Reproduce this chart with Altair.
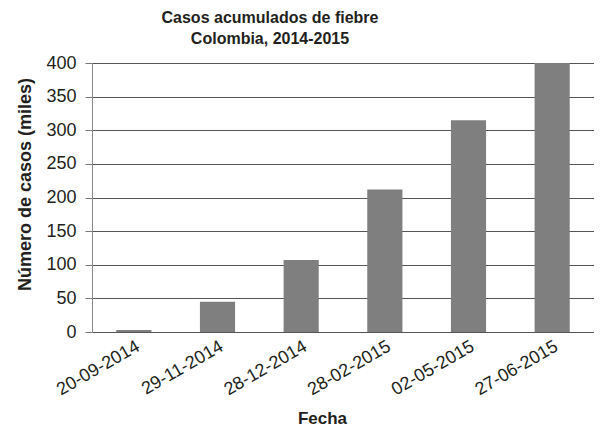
import altair as alt
import pandas as pd

fechas = ["20-09-2014", "29-11-2014", "28-12-2014", "28-02-2015", "02-05-2015", "27-06-2015"]
casos = [3, 45, 107, 212, 315, 400]

df = pd.DataFrame({"Fecha": fechas, "Casos": casos})

FONT = "Liberation Sans"
TXT = "#231f20"

chart = alt.Chart(df).mark_bar(color="#7f7f80").encode(
    x=alt.X(
        "Fecha:N",
        sort=None,
        scale=alt.Scale(paddingInner=0.58, paddingOuter=0.29),
        axis=alt.Axis(
            title="Fecha",
            labelAngle=-30,
            labelAlign="right",
            labelBaseline="top",
            labelPadding=5,
            labelFontSize=18,
            labelColor=TXT,
            labelFont=FONT,
            ticks=False,
            domain=False,
            grid=False,
            titleFont=FONT,
            titleFontSize=17,
            titleFontWeight="bold",
            titleColor=TXT,
            titleX=230,
            titleY=91,
            titleBaseline="alphabetic",
        ),
    ),
    y=alt.Y(
        "Casos:Q",
        scale=alt.Scale(domain=[0, 400], nice=False),
        axis=alt.Axis(
            title="Número de casos (miles)",
            values=[0, 50, 100, 150, 200, 250, 300, 350, 400],
            labelFontSize=18,
            labelColor=TXT,
            labelFont=FONT,
            labelPadding=9,
            tickSize=7,
            tickColor="#777777",
            domainColor="#888888",
            gridColor="#555555",
            gridWidth=1,
            gridOpacity=1,
            titleFont=FONT,
            titleFontSize=18,
            titleFontWeight="bold",
            titleColor=TXT,
            titleAngle=-90,
            titleX=-62,
            titleY=121,
            titleAlign="center",
            titleBaseline="alphabetic",
        ),
    ),
).properties(
    width=502,
    height=269,
    title=alt.TitleParams(
        text=["Casos acumulados de fiebre", "Colombia, 2014-2015"],
        font=FONT,
        fontSize=16,
        fontWeight="bold",
        color=TXT,
        anchor="middle",
        frame="group",
        dx=-73,
        offset=7,
        lineHeight=21,
    ),
    autosize=alt.AutoSizeParams(type="none"),
    padding={"left": 84, "top": 55, "right": 0, "bottom": 94},
).configure_view(stroke=None)

chart.save("out.html", embed_options={"renderer": "svg", "actions": False})
